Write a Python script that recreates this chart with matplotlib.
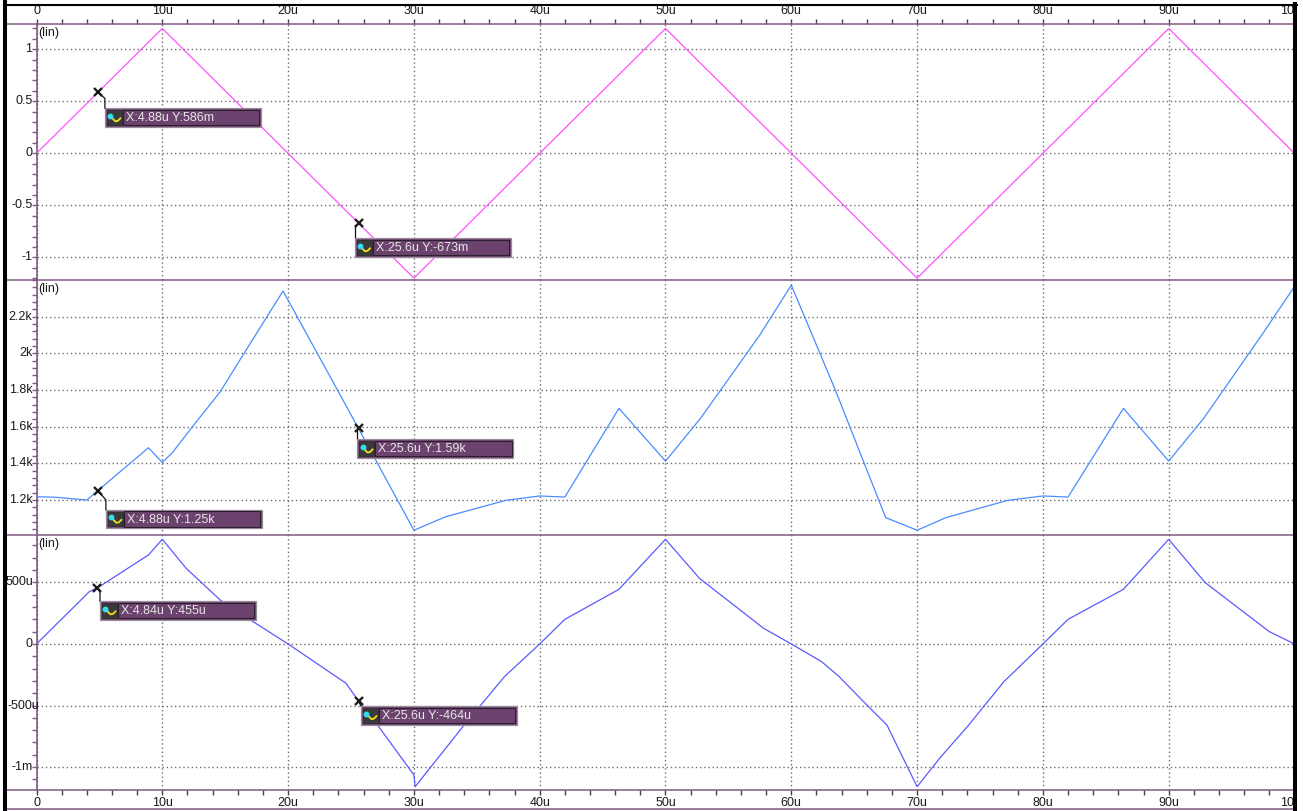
import matplotlib
matplotlib.use("Agg")
import matplotlib.pyplot as plt
from matplotlib.patches import Rectangle
from matplotlib.lines import Line2D
from matplotlib.transforms import Affine2D, blended_transform_factory
from matplotlib.ticker import FixedLocator, FixedFormatter, MultipleLocator, NullFormatter

plt.rcParams['font.family'] = ['Liberation Sans', 'DejaVu Sans']

# time axis (microseconds)
x_ticks = [0, 10, 20, 30, 40, 50, 60, 70, 80, 90, 100]
x_labels = ["0", "10u", "20u", "30u", "40u", "50u", "60u", "70u", "80u", "90u", "100u"]

# triangle drive (V)
tri_t = [0, 10, 20, 30, 40, 50, 60, 70, 80, 90, 100]
tri_v = [0, 1.2, 0, -1.2, 0, 1.2, 0, -1.2, 0, 1.2, 0]

# second trace
mid_t = [0, 1.5, 4.0, 8.9, 10.0, 10.8, 12.4, 14.6, 16.5, 19.6, 25.6, 30.0,
         32.5, 37.3, 40.0, 42.0, 46.3, 50.0, 52.8, 57.5, 60.0, 63.5, 67.5,
         70.0, 72.3, 77.2, 80.0, 82.0, 86.4, 90.0, 92.8, 97.5, 100.0]
mid_v = [1218, 1215, 1200, 1485, 1405, 1458, 1600, 1790, 2000, 2340, 1590, 1035,
         1108, 1198, 1222, 1216, 1700, 1412, 1647, 2100, 2372, 1800, 1104,
         1035, 1104, 1198, 1222, 1216, 1700, 1412, 1647, 2110, 2365]

# third trace (u units)
bot_t = [0, 4.2, 4.84, 8.9, 10.0, 11.9, 14.6, 17.0, 20.0, 24.6, 25.6, 27.2, 30.0,
         30.1, 33.9, 37.2, 40.0, 42.0, 46.3, 50.0, 52.7, 57.8, 60.0, 62.4, 63.8,
         66.0, 67.6, 70.0, 71.9, 74.0, 76.9, 80.0, 82.0, 86.4, 90.0, 92.9, 98.0, 100.0]
bot_v = [0, 425, 455, 723, 850, 614, 357, 195, 0, -319, -464, -671, -1064,
         -1159, -671, -265, 0, 200, 444, 850, 533, 127, 0, -143, -265,
         -495, -658, -1159, -915, -671, -306, 0, 200, 444, 850, 498, 100, 0]

# y ticks per panel
y1_ticks = [-1, -0.5, 0, 0.5, 1]
y1_labels = ["-1", "-0.5", "0", "0.5", "1"]
y2_ticks = [1200, 1400, 1600, 1800, 2000, 2200]
y2_labels = ["1.2k", "1.4k", "1.6k", "1.8k", "2k", "2.2k"]
y3_ticks = [-1000, -500, 0, 500]
y3_labels = ["-1m", "-500u", "0", "500u"]

# cursor readouts
mk1_t = [4.88, 25.6]
mk1_v = [0.586, -0.673]
mk1_text = ["X:4.88u Y:586m", "X:25.6u Y:-673m"]
mk2_t = [4.88, 25.6]
mk2_v = [1250, 1590]
mk2_text = ["X:4.88u Y:1.25k", "X:25.6u Y:1.59k"]
mk3_t = [4.84, 25.6]
mk3_v = [455, -464]
mk3_text = ["X:4.84u Y:455u", "X:25.6u Y:-464u"]

W, H = 1303, 811
PURPLE = '#7e5a80'
TICKC = '#4a3a4a'
GRIDC = '#6e6e6e'
BOXC = '#6c436e'

fig = plt.figure(figsize=(W / 100, H / 100), dpi=100)
fig.patch.set_facecolor('white')
# pixel coords, y pointing down
pix = Affine2D().scale(1.0 / W, -1.0 / H).translate(0, 1) + fig.transFigure

panels = [
    dict(top=24, bot=280, t=tri_t, v=tri_v, color='#ff50ff', ylim=(-1.218, 1.243),
         yt=y1_ticks, yl=y1_labels, ymin=0.1, xside='top', ylx=None,
         mt=mk1_t, mv=mk1_v, mtext=mk1_text,
         offs=[([(0, 0), (7, 6), (7, 16)], 7, 16), ([(-4, 2), (-4, 15)], -4, 15)]),
    dict(top=280, bot=535, t=mid_t, v=mid_v, color='#4a8cff', ylim=(1009, 2400),
         yt=y2_ticks, yl=y2_labels, ymin=40, xside=None, ylx=None,
         mt=mk2_t, mv=mk2_v, mtext=mk2_text,
         offs=[([(0, 0), (8, 9), (8, 19)], 8, 19), ([(-1.5, 2), (-1.5, 11)], -1.5, 11)]),
    dict(top=535, bot=790, t=bot_t, v=bot_v, color='#5a5aff', ylim=(-1186, 885),
         yt=y3_ticks, yl=y3_labels, ymin=100, xside='bottom',
         # wide labels start at the frame instead of ending at the axis
         ylx=[None, 7, None, 6],
         mt=mk3_t, mv=mk3_v, mtext=mk3_text,
         offs=[([(0, 0), (2.6, 3.4), (2.6, 13.4)], 2.6, 13.4), ([(0, 0), (2.4, 5)], 2.4, 5)]),
]

icon_wave = [(3.5, 5.5), (6, 8.5), (8.5, 11), (11, 10.5), (13.5, 8)]

for p in panels:
    ax = fig.add_axes([36.5 / W, 1 - p['bot'] / H, 1258 / W, (p['bot'] - p['top']) / H])
    ax.set_facecolor('none')
    ax.plot(p['t'], p['v'], color=p['color'], lw=0.9, zorder=3)
    ax.set_xlim(0, 100)
    ax.set_ylim(*p['ylim'])

    for s in ['top', 'bottom', 'right']:
        ax.spines[s].set_visible(False)
    ax.spines['left'].set_color(PURPLE)
    ax.spines['left'].set_linewidth(1.2)

    ax.xaxis.set_major_locator(FixedLocator(x_ticks))
    ax.xaxis.set_major_formatter(FixedFormatter(x_labels))
    ax.yaxis.set_major_locator(FixedLocator(p['yt']))
    ax.yaxis.set_major_formatter(NullFormatter())
    ax.yaxis.set_minor_locator(MultipleLocator(p['ymin']))
    ax.grid(True, which='major', color=GRIDC, linestyle=(0, (1, 2)), lw=1.0)

    ax.tick_params(axis='y', which='both', direction='out', length=3.5, width=1,
                   color=PURPLE)
    if p['xside'] == 'top':
        ax.xaxis.set_minor_locator(MultipleLocator(2))
        ax.tick_params(axis='x', which='both', top=True, bottom=False, labeltop=True,
                       labelbottom=False, direction='out', length=3.5, width=1,
                       color=TICKC, pad=1.5, labelsize=9, labelcolor='#1a1a1a')
    elif p['xside'] == 'bottom':
        ax.xaxis.set_minor_locator(MultipleLocator(2))
        ax.tick_params(axis='x', which='both', top=False, bottom=True, labeltop=False,
                       labelbottom=True, direction='out', length=3.5, width=1,
                       color=TICKC, pad=1.5, labelsize=9, labelcolor='#1a1a1a')
    else:
        ax.tick_params(axis='x', which='both', length=0, labelbottom=False)

    # y tick labels
    ytr = blended_transform_factory(fig.transFigure, ax.transData)
    lx = p['ylx'] or [None] * len(p['yt'])
    for yv, lab, xl in zip(p['yt'], p['yl'], lx):
        if xl is None:
            ax.text(32.5 / W, yv, lab, transform=ytr, ha='right', va='center',
                    fontsize=9, color='#1a1a1a')
        else:
            ax.text(xl / W, yv, lab, transform=ytr, ha='left', va='center',
                    fontsize=9, color='#1a1a1a', zorder=5)

    ax.text(2 / 1258, 1 - 3 / (p['bot'] - p['top']), "(lin)", transform=ax.transAxes,
            ha='left', va='top', fontsize=9, color='#1a1a1a')

    # cursor markers + readout boxes
    for t, v, s, (lead, bl, bt) in zip(p['mt'], p['mv'], p['mtext'], p['offs']):
        ax.plot([t], [v], marker='x', color='#1e1e1e', ms=6, mew=1.7, clip_on=False, zorder=6)
        dx, dy = ax.transData.transform((t, v))
        mx, my = dx, H - dy
        fig.add_artist(Line2D([mx + a for a, b in lead], [my + b for a, b in lead],
                              color='#111111', lw=0.9, transform=pix, zorder=7))
        bx, by = mx + bl, my + bt
        fig.add_artist(Rectangle((bx, by), 156, 18.5, facecolor=BOXC, edgecolor='#9a8c9c',
                                 lw=0.9, transform=pix, zorder=7))
        fig.add_artist(Rectangle((bx + 18, by + 1.5), 136.5, 15.5, facecolor='none',
                                 edgecolor='#2e1f30', lw=0.8, transform=pix, zorder=7))
        fig.add_artist(Rectangle((bx + 2, by + 2), 15, 14.5, facecolor='#3a3a3a',
                                 edgecolor='#2a2a2a', lw=0.5, transform=pix, zorder=8))
        fig.add_artist(Line2D([bx + 2 + a for a, b in icon_wave], [by + 2 + b for a, b in icon_wave],
                              color='#f0e020', lw=1.3, transform=pix, zorder=9))
        fig.add_artist(Line2D([bx + 5.5], [by + 7.5], marker='o', ms=3.2, color='#30e0f0',
                              transform=pix, zorder=9))
        fig.text(bx + 21, by + 9.8, s, transform=pix, ha='left', va='center',
                 fontsize=9, color='#e6e6e6', zorder=9)

# panel separators
for yy in [24, 280, 535, 790]:
    fig.add_artist(Line2D([7, 1293], [yy, yy], color=PURPLE, lw=1.1, transform=pix, zorder=4))
fig.add_artist(Line2D([7, 1293], [809, 809], color=PURPLE, lw=1.1, transform=pix, zorder=4))

# outer frame
fig.add_artist(Rectangle((1297, 0), 6, H, facecolor='white', edgecolor='none',
                         transform=pix, zorder=10))
fig.add_artist(Line2D([5, 5], [0, H], color='black', lw=2.9, transform=pix, zorder=11))
fig.add_artist(Line2D([1295, 1295], [4, H], color='black', lw=2.9, transform=pix, zorder=11))
fig.add_artist(Line2D([4, 1297], [5, 5], color='black', lw=1.5, transform=pix, zorder=11))

fig.savefig("out.png", dpi=100)
